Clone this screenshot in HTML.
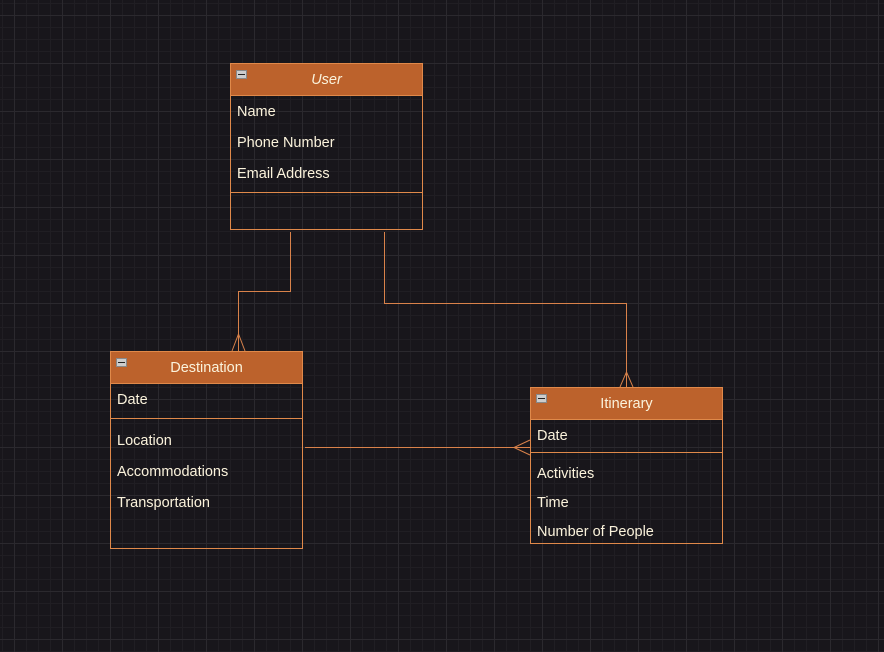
<!DOCTYPE html>
<html><head><style>
body{margin:0;width:884px;height:652px;overflow:hidden;background:#18161b;
background-image:linear-gradient(#2b292e 1px,transparent 1px),linear-gradient(90deg,#2b292e 1px,transparent 1px),linear-gradient(#201e23 1px,transparent 1px),linear-gradient(90deg,#201e23 1px,transparent 1px);
background-size:48px 48px,48px 48px,12px 12px,12px 12px;background-position:14px 15px,14px 15px,2px 3px,2px 3px;
font-family:"Liberation Sans",sans-serif;font-size:14.5px;color:#fbf3dc;}
.b{position:absolute;border:1px solid #e0894a;box-sizing:border-box;}
.h{position:absolute;left:0;right:0;top:0;height:31px;background:#bc622c;border-bottom:1px solid #e0894a;text-align:center;line-height:33px;}
.i{position:absolute;left:5px;top:6px;width:9px;height:7px;background:#ccc;border:1px solid #888;}
.i:after{content:"";position:absolute;left:1px;right:1px;top:3px;height:1px;background:#222;}
.t{position:absolute;left:6px;}
.s{position:absolute;left:0;right:0;height:1px;background:#e0894a;}
</style></head><body>
<svg width="884" height="652" style="position:absolute;left:0;top:0" fill="none" stroke="#d9824a" stroke-width="1">
<path d="M290.5 232V291.5H238.5V351"/>
<path d="M232 351L238.5 334L245 351M238.5 351V334"/>
<path d="M384.5 232V303.5H626.5V387"/>
<path d="M620 387L626.5 372L633 387"/>
<path d="M305 447.5H530"/>
<path d="M530 440L514 447.5L530 455"/>
</svg>
<div class="b" style="left:230px;top:63px;width:193px;height:167px">
<div class="h"><i>User</i></div><div class="i"></div>
<div class="t" style="top:40px">Name</div>
<div class="t" style="top:71px">Phone Number</div>
<div class="t" style="top:102px">Email Address</div>
<div class="s" style="top:128px"></div>
</div>
<div class="b" style="left:110px;top:351px;width:193px;height:198px">
<div class="h">Destination</div><div class="i"></div>
<div class="t" style="top:40px">Date</div>
<div class="s" style="top:66px"></div>
<div class="t" style="top:81px">Location</div>
<div class="t" style="top:112px">Accommodations</div>
<div class="t" style="top:143px">Transportation</div>
</div>
<div class="b" style="left:530px;top:387px;width:193px;height:157px">
<div class="h">Itinerary</div><div class="i"></div>
<div class="t" style="top:40px">Date</div>
<div class="s" style="top:64px"></div>
<div class="t" style="top:78px">Activities</div>
<div class="t" style="top:107px">Time</div>
<div class="t" style="top:136px">Number of People</div>
</div>
</body></html>
